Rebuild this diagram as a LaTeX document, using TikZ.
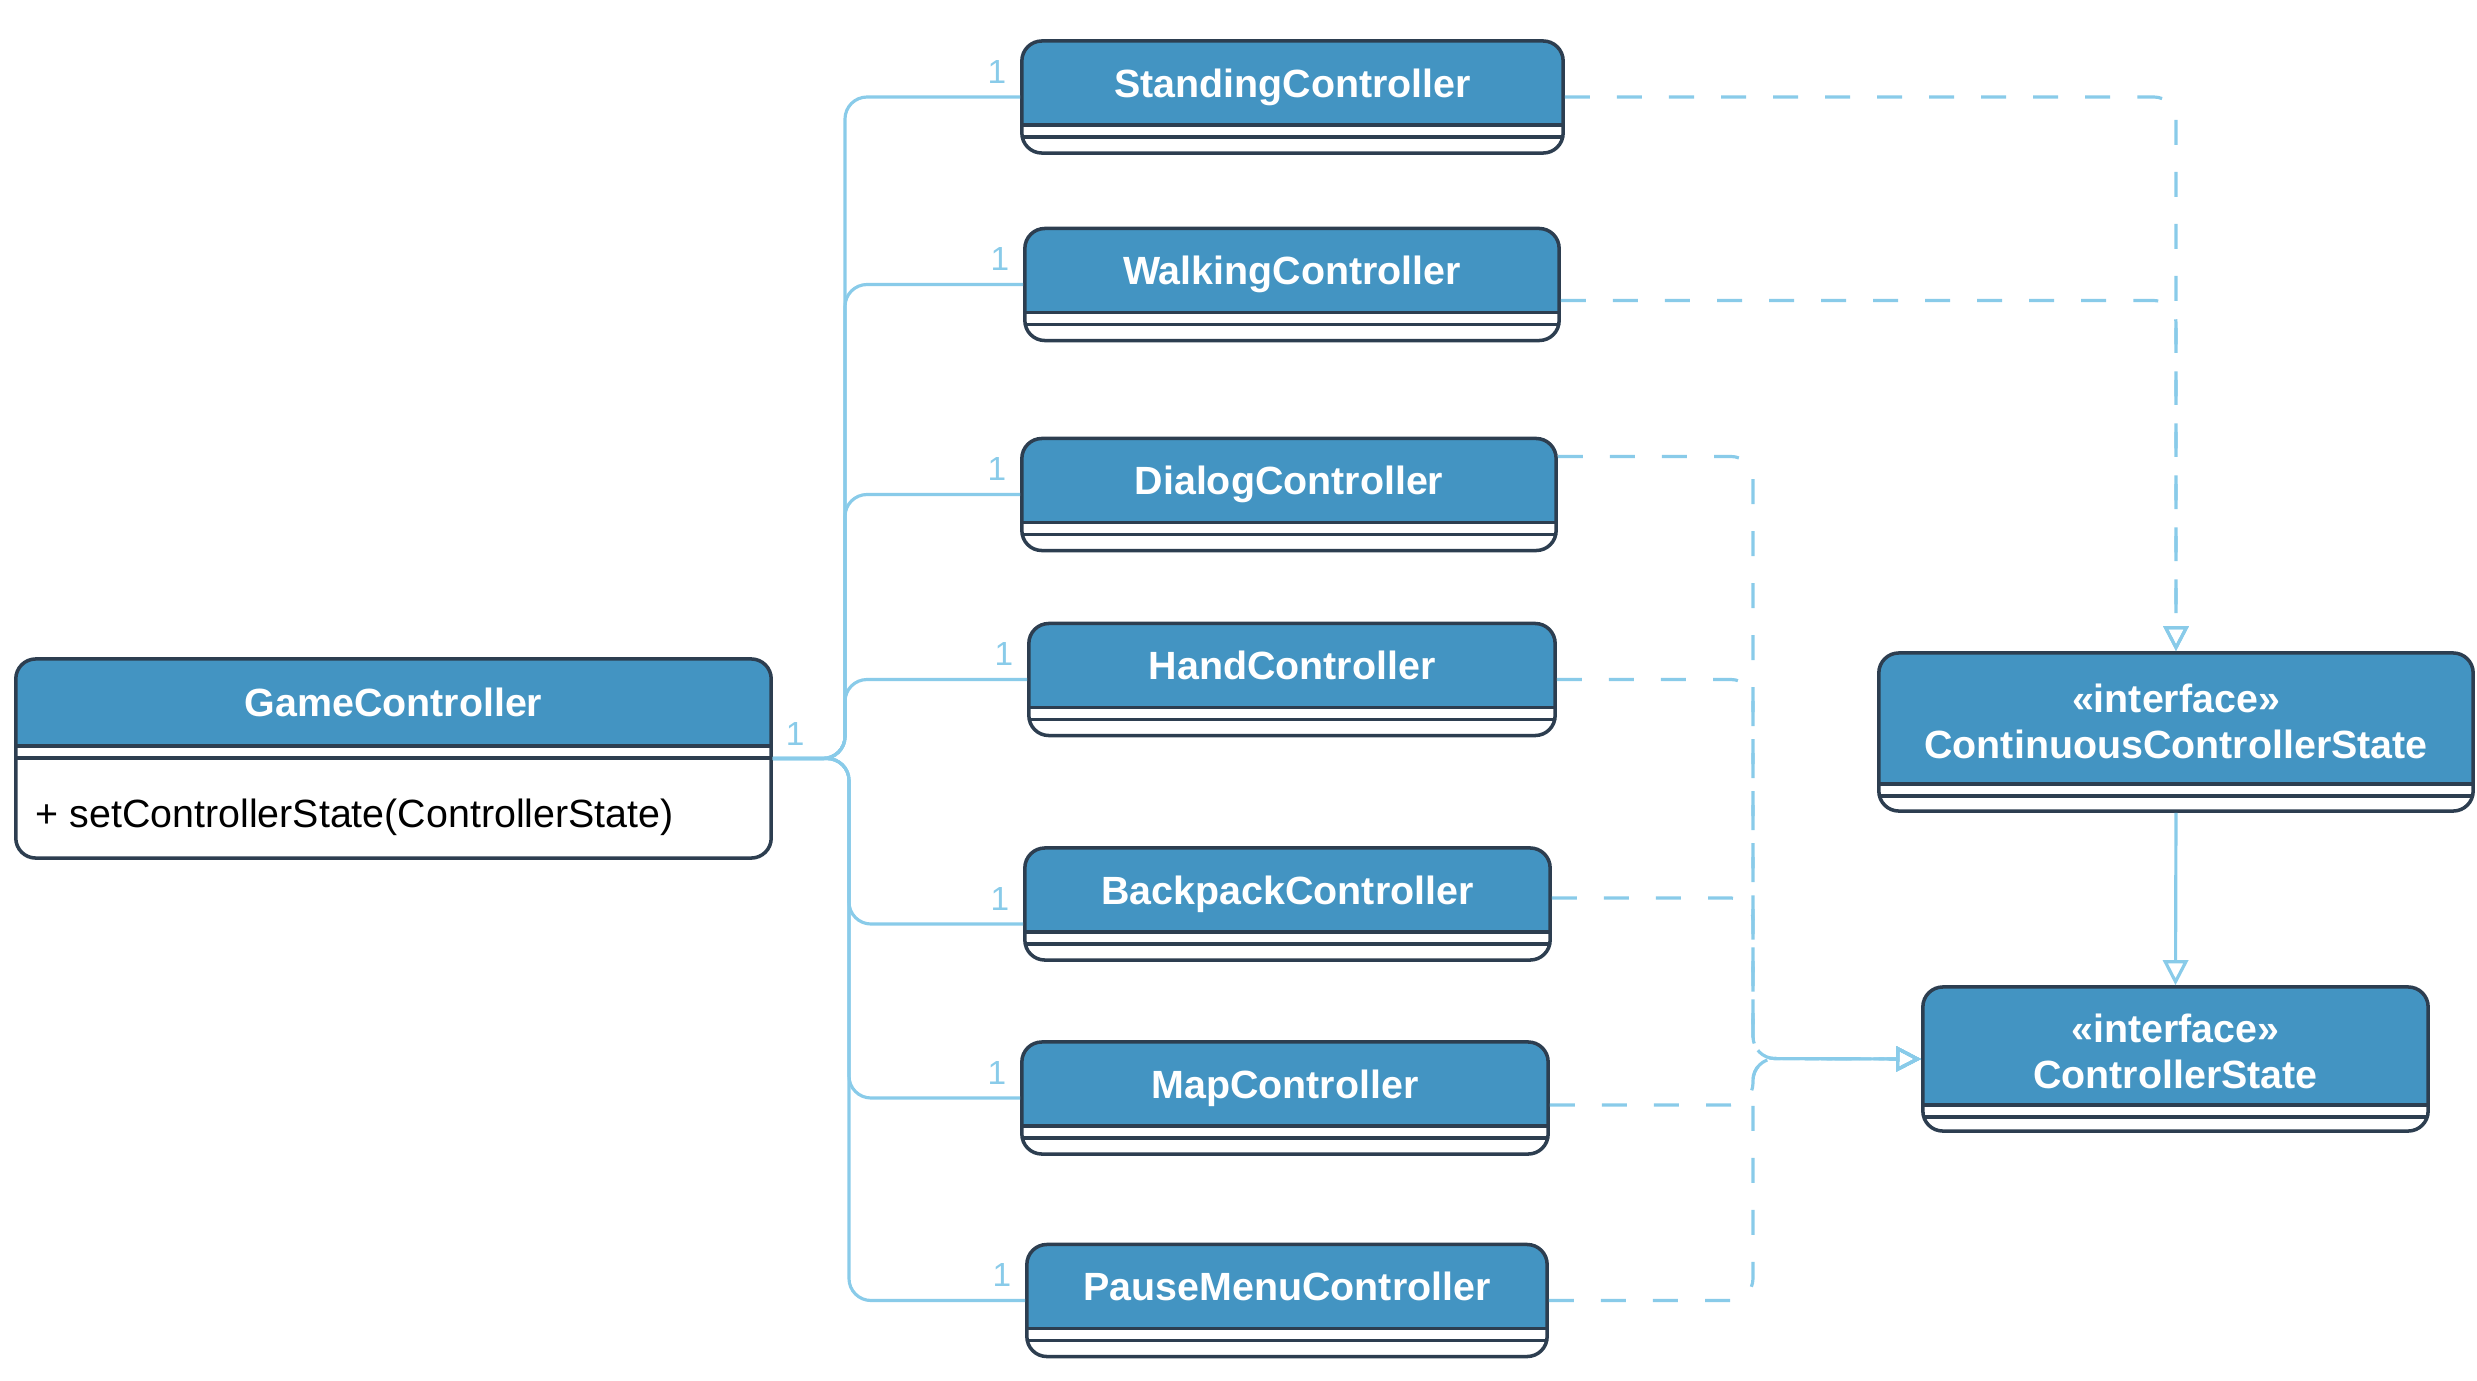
\documentclass[tikz,border=0pt]{standalone}
\usepackage{fontspec}
\setmainfont{Liberation Sans}
\usepackage{tikz}
\usetikzlibrary{arrows.meta,positioning,calc}
\definecolor{clsblue}{RGB}{67,148,194}
\definecolor{clsline}{RGB}{45,62,80}
\definecolor{conn}{RGB}{137,203,233}
\tikzset{
    cls/.style={draw=clsline, line width=1pt, rounded corners=0.2cm, fill=white,
        inner sep=0pt, align=center, text=white,
        font=\bfseries\fontsize{11.2}{13}\selectfont,
        path picture={
            \fill[clsblue, sharp corners] (path picture bounding box.north west)
                rectangle ([yshift=#1]path picture bounding box.south east);
            \draw[clsline, line width=1pt, sharp corners]
                ([yshift=#1]path picture bounding box.south west) --
                ([yshift=#1]path picture bounding box.south east);
            \draw[clsline, line width=1pt, sharp corners]
                ([yshift=#1-0.12cm]path picture bounding box.south west) --
                ([yshift=#1-0.12cm]path picture bounding box.south east);
        }},
    ctrl/.style={cls=0.28cm, minimum height=1.12cm, text height=0.56cm, text depth=0.56cm},
    assoc/.style={draw=conn, line width=0.9pt, rounded corners=0.22cm},
    realize/.style={assoc, dash pattern=on 0.25cm off 0.27cm,
        -{Triangle[open, length=0.25cm, width=0.25cm]}},
    mult/.style={text=conn, font=\fontsize{9.5}{11}\selectfont, inner sep=3.5pt}
}
\begin{document}
\begin{tikzpicture}[x=0.01cm, y=-0.01cm]
    \useasboundingbox (0,0) rectangle (2477,1381);

    % Context class
    \node[cls=1.12cm, minimum width=7.55cm, minimum height=1.99cm,
        text height=0.575cm, text depth=1.415cm] (gc) at (393.5,758.5) {GameController};
    \node[anchor=west, font=\fontsize{11.2}{13}\selectfont, inner sep=0pt] (gcop) at (35,817)
        {+ setControllerState(ControllerState)};

    % Concrete states
    \node[ctrl, minimum width=5.41cm] (sc) at (1292.5,97) {StandingController};
    \node[ctrl, minimum width=5.34cm] (wc) at (1292,284.5) {WalkingController};
    \node[ctrl, minimum width=5.34cm] (dc) at (1289,494.5) {DialogController};
    \node[ctrl, minimum width=5.26cm] (hc) at (1292,679.5) {HandController};
    \node[ctrl, minimum width=5.25cm] (bc) at (1287.5,904) {BackpackController};
    \node[ctrl, minimum width=5.26cm] (mc) at (1285,1098) {MapController};
    \node[ctrl, minimum width=5.20cm] (pc) at (1287,1300.5) {PauseMenuController};

    % Interfaces
    \node[cls=0.27cm, minimum width=5.94cm, minimum height=1.58cm,
        text height=1.05cm, text depth=0.53cm] (ci) at (2176,732)
        {«interface»\\ContinuousControllerState};
    \node[cls=0.26cm, minimum width=5.05cm, minimum height=1.44cm,
        text height=1.01cm, text depth=0.43cm] (cs) at (2175.5,1059)
        {«interface»\\ControllerState};

    % Associations
    \coordinate (tu) at (845,758.5);
    \coordinate (tl) at (849,758.5);
    \draw[assoc] (gc.east) -- (tu) |- (sc.west) node[pos=1, mult, above left] {1};
    \draw[assoc] (gc.east) -- (tu) |- (wc.west) node[pos=1, mult, above left] {1};
    \draw[assoc] (gc.east) -- (tu) |- (dc.west) node[pos=1, mult, above left] {1};
    \draw[assoc] (gc.east) -- (tu) |- (hc.west) node[pos=1, mult, above left] {1};
    \draw[assoc] (gc.east) -- (tl) |- ([yshift=-0.2cm]bc.west) node[pos=1, mult, above left] {1};
    \draw[assoc] (gc.east) -- (tl) |- (mc.west) node[pos=1, mult, above left] {1};
    \draw[assoc] (gc.east) -- (tl) |- (pc.west) node[pos=1, mult, above left] {1};
    \node[mult, above right] (gcm) at (gc.east) {1};

    % Realizations
    \coordinate (vb) at (1753,1058.5);
    \draw[realize] (sc.east) -| (ci.north);
    \draw[realize] ([yshift=-0.16cm]wc.east) -| (ci.north);
    \draw[realize] ([yshift=0.38cm]dc.east) -| (vb) -- (cs.west);
    \draw[realize] (hc.east) -| (vb) -- (cs.west);
    \draw[realize] ([yshift=0.06cm]bc.east) -| (vb) -- (cs.west);
    \draw[realize] ([yshift=-0.07cm]mc.east) -| (vb) -- (cs.west);
    \draw[realize] (pc.east) -| (vb) -- (cs.west);

    % Generalization
    \draw[assoc, -{Triangle[open, length=0.25cm, width=0.25cm]}] (ci.south) -- (cs.north);
\end{tikzpicture}
\end{document}
